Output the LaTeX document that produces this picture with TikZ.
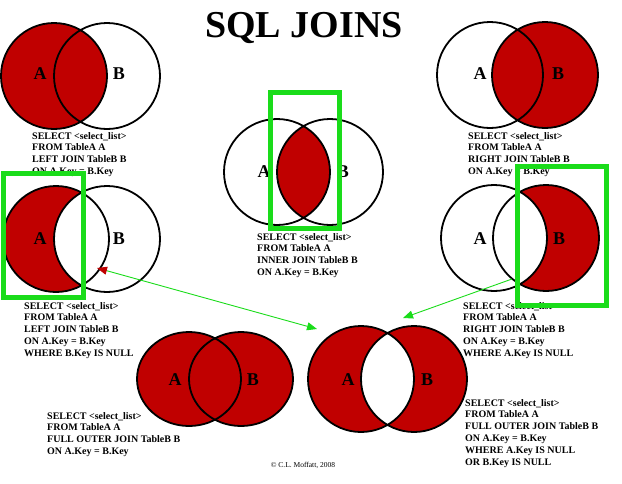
\documentclass[tikz,border=0pt]{standalone}
\usepackage{fontspec}
\setmainfont{Liberation Serif}
\usetikzlibrary{arrows.meta}
\definecolor{vred}{RGB}{192,0,0}
\definecolor{vgreen}{RGB}{26,220,26}
\begin{document}
\begin{tikzpicture}[x=1pt,y=-1pt,
  ring/.style={draw=black, line width=1.8pt},
  sql/.style={font=\bfseries\fontsize{10}{11.8}\selectfont, align=left, anchor=north west, inner sep=0pt},
  lbl/.style={font=\bfseries\fontsize{18}{18}\selectfont, inner sep=0pt},
  hilite/.style={draw=vgreen, line width=5pt},
  link/.style={draw=vgreen, line width=0.9pt}]
\useasboundingbox (0,0) rectangle (622,483);
\def\r{53}
% title
\node[font=\bfseries\fontsize{38}{38}\selectfont, anchor=base, inner sep=0pt] (title) at (304,37) {SQL JOINS};

% ---- top left: LEFT JOIN
\coordinate (tlA) at (54,76); \coordinate (tlB) at (107,76);
\fill[vred] (tlA) circle (\r);
\draw[ring] (tlA) circle (\r) (tlB) circle (\r);
\node[lbl] (tlLA) at (40,74) {A};
\node[lbl] (tlLB) at (119,74) {B};
\node[sql] (tltext) at (32,132) {SELECT <select\_list>\\FROM TableA A\\LEFT JOIN TableB B\\ON A.Key = B.Key};

% ---- top right: RIGHT JOIN
\coordinate (trA) at (490,75); \coordinate (trB) at (545,75);
\fill[vred] (trB) circle (\r);
\draw[ring] (trA) circle (\r) (trB) circle (\r);
\node[lbl] (trLA) at (480,74) {A};
\node[lbl] (trLB) at (558,74) {B};
\node[sql] (trtext) at (468,132) {SELECT <select\_list>\\FROM TableA A\\RIGHT JOIN TableB B\\ON A.Key = B.Key};

% ---- center: INNER JOIN
\coordinate (ijA) at (277,172); \coordinate (ijB) at (330,172);
\begin{scope}
  \clip (ijA) circle (\r);
  \fill[vred] (ijB) circle (\r);
\end{scope}
\draw[ring] (ijA) circle (\r) (ijB) circle (\r);
\node[lbl] (ijLA) at (264,172) {A};
\node[lbl] (ijLB) at (343,172) {B};
\node[sql] (ijtext) at (257,233) {SELECT <select\_list>\\FROM TableA A\\INNER JOIN TableB B\\ON A.Key = B.Key};

% ---- middle left: LEFT JOIN excluding
\coordinate (mlA) at (56,239); \coordinate (mlB) at (107,239);
\fill[vred] (mlA) circle (\r);
\begin{scope}
  \clip (mlA) circle (\r);
  \fill[white] (mlB) circle (\r);
\end{scope}
\draw[ring] (mlA) circle (\r) (mlB) circle (\r);
\node[lbl] (mlLA) at (40,239) {A};
\node[lbl] (mlLB) at (119,239) {B};
\node[sql] (mltext) at (24,302) {SELECT <select\_list>\\FROM TableA A\\LEFT JOIN TableB B\\ON A.Key = B.Key\\WHERE B.Key IS NULL};

% ---- middle right: RIGHT JOIN excluding
\coordinate (mrA) at (494,238); \coordinate (mrB) at (546,238);
\fill[vred] (mrB) circle (\r);
\begin{scope}
  \clip (mrB) circle (\r);
  \fill[white] (mrA) circle (\r);
\end{scope}
\draw[ring] (mrA) circle (\r) (mrB) circle (\r);
\node[lbl] (mrLA) at (480,239) {A};
\node[lbl] (mrLB) at (559,239) {B};
\node[sql] (mrtext) at (463,302) {SELECT <select\_list>\\FROM TableA A\\RIGHT JOIN TableB B\\ON A.Key = B.Key\\WHERE A.Key IS NULL};

% ---- bottom left: FULL OUTER JOIN
\coordinate (foA) at (189,379); \coordinate (foB) at (241,379);
\fill[vred] (foA) ellipse [x radius=52, y radius=47];
\fill[vred] (foB) ellipse [x radius=52, y radius=47];
\draw[ring] (foA) ellipse [x radius=52, y radius=47] (foB) ellipse [x radius=52, y radius=47];
\node[lbl] (foLA) at (175,380) {A};
\node[lbl] (foLB) at (253,380) {B};
\node[sql] (fotext) at (47,412) {SELECT <select\_list>\\FROM TableA A\\FULL OUTER JOIN TableB B\\ON A.Key = B.Key};

% ---- bottom right: FULL OUTER JOIN excluding
\coordinate (fxA) at (361,379); \coordinate (fxB) at (414,379);
\fill[vred, even odd rule] (fxA) circle (\r) (fxB) circle (\r);
\draw[ring] (fxA) circle (\r) (fxB) circle (\r);
\node[lbl] (fxLA) at (348,380) {A};
\node[lbl] (fxLB) at (427,380) {B};
\node[sql] (fxtext) at (465,399) {SELECT <select\_list>\\FROM TableA A\\FULL OUTER JOIN TableB B\\ON A.Key = B.Key\\WHERE A.Key IS NULL\\OR B.Key IS NULL};

% copyright
\node[font=\fontsize{7.5}{7.5}\selectfont, anchor=base, inner sep=0pt] (copy) at (303,467) {© C.L. Moffatt, 2008};

% green highlight boxes
\draw[hilite] (270,92) rectangle (339,228);
\draw[hilite] (3,173) rectangle (83,297);
\draw[hilite] (517,166) rectangle (606,305);

% arrows
\coordinate (l1) at (97,268); \coordinate (l2) at (317,329);
\coordinate (r1) at (512,279); \coordinate (r2) at (403,318);
\draw[link, arrows={Triangle[length=10pt,width=8pt,color=vred]-Triangle[length=10pt,width=8pt,color=vgreen]}] (l1) -- (l2);
\draw[link, -{Triangle[length=10pt,width=8pt,color=vgreen]}] (r1) -- (r2);
\end{tikzpicture}
\end{document}
